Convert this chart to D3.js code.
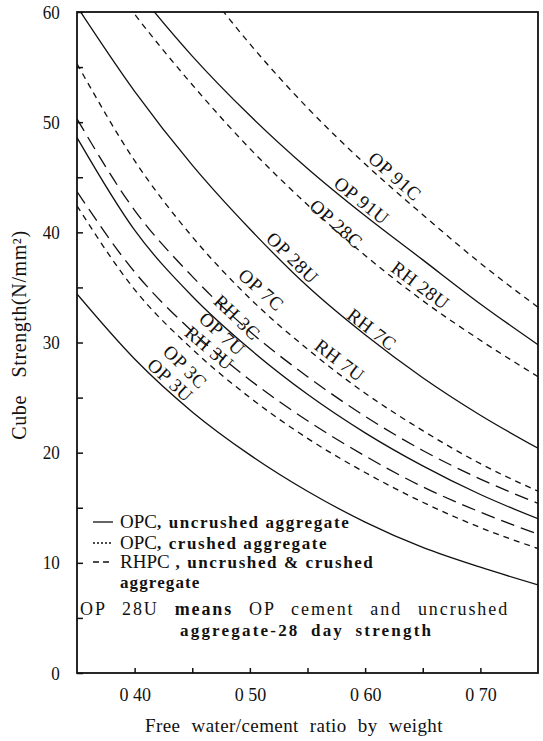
<!DOCTYPE html>
<html>
<head>
<meta charset="utf-8">
<script src="https://cdn.jsdelivr.net/npm/d3@7"></script>
<style>
  body { margin: 0; background: #fff; }
  svg text { font-family: "Liberation Serif", "DejaVu Serif", serif; fill: #111; }
</style>
</head>
<body>
<svg id="chart" width="543" height="741"></svg>
<script>
// free water / cement ratio, read at every 0.05
const ratios = [0.35, 0.40, 0.45, 0.50, 0.55, 0.60, 0.65, 0.70, 0.75];

// cube strength N/mm2 (values above 60 run off the top of the frame)
const op91c = [79.0, 71.0, 63.7, 57.1, 51.3, 46.2, 41.6, 37.2, 33.2];
const op91u = [69.0, 62.2, 56.0, 50.6, 45.8, 41.5, 37.5, 33.5, 29.8];
const op28c = [67.0, 59.8, 53.4, 47.6, 42.5, 37.9, 33.8, 30.2, 26.9];
const op28u = [60.5, 52.8, 46.1, 40.3, 35.1, 30.7, 26.8, 23.4, 20.4];
const op7c  = [55.3, 46.5, 39.6, 34.0, 29.4, 25.4, 22.0, 19.0, 16.5];
const rh3c  = [50.3, 42.0, 36.0, 31.0, 26.9, 23.3, 20.2, 17.6, 15.4];
const op7u  = [48.6, 40.2, 34.2, 29.4, 25.3, 21.8, 18.8, 16.2, 14.0];
const rh3u  = [43.7, 36.4, 31.0, 26.6, 22.9, 19.7, 16.9, 14.6, 12.6];
const op3c  = [42.4, 34.8, 29.4, 25.0, 21.3, 18.2, 15.5, 13.2, 11.3];
const op3u  = [34.4, 28.5, 23.7, 19.8, 16.5, 13.7, 11.4,  9.6,  8.0];

const strengthTicks = [0, 5, 10, 15, 20, 25, 30, 35, 40, 45, 50, 55, 60];
const ratioTicks = [0.40, 0.45, 0.50, 0.55, 0.60, 0.65, 0.70];
const ratioTickLabels = {"0.4": "0 40", "0.5": "0 50", "0.6": "0 60", "0.7": "0 70"};

// curve name -> line kind
const curves = [
  {name: "op91c", values: op91c, kind: "crushed"},
  {name: "op91u", values: op91u, kind: "uncrushed"},
  {name: "op28c", values: op28c, kind: "crushed"},
  {name: "op28u", values: op28u, kind: "uncrushed"},
  {name: "op7c",  values: op7c,  kind: "crushed"},
  {name: "rh3c",  values: rh3c,  kind: "rhpc"},
  {name: "op7u",  values: op7u,  kind: "uncrushed"},
  {name: "rh3u",  values: rh3u,  kind: "rhpc"},
  {name: "op3c",  values: op3c,  kind: "crushed"},
  {name: "op3u",  values: op3u,  kind: "uncrushed"}
];

// curve labels: centre in data units (ratio, strength), turned to follow their curve
const curveLabels = [
  {text: "OP  91C", curve: "op91c", ratio: 0.626, strength: 45.1},
  {text: "OP  91U", curve: "op91u", ratio: 0.597, strength: 42.9},
  {text: "OP  28C", curve: "op28c", ratio: 0.575, strength: 40.8},
  {text: "RH  28U", curve: "op28c", ratio: 0.648, strength: 35.2},
  {text: "OP  28U", curve: "op28u", ratio: 0.537, strength: 37.7},
  {text: "RH  7C",  curve: "op28u", ratio: 0.606, strength: 31.2},
  {text: "OP  7C",  curve: "op7c",  ratio: 0.510, strength: 34.8},
  {text: "RH  7U",  curve: "op7c",  ratio: 0.578, strength: 28.4},
  {text: "RH  3C",  curve: "rh3c",  ratio: 0.489, strength: 32.3},
  {text: "OP  7U",  curve: "op7u",  ratio: 0.476, strength: 30.8},
  {text: "RH  3U",  curve: "rh3u",  ratio: 0.465, strength: 29.5},
  {text: "OP  3C",  curve: "op3c",  ratio: 0.444, strength: 27.8},
  {text: "OP  3U",  curve: "op3u",  ratio: 0.431, strength: 26.6}
];

const dashes = {uncrushed: null, crushed: "6,5", rhpc: "14,7"};

const svg = d3.select("#chart");

const x = d3.scaleLinear().domain([0.35, 0.75]).range([77, 538]);
const y = d3.scaleLinear().domain([0, 60]).range([673, 12]);

svg.append("clipPath").attr("id", "plot-clip")
  .append("rect")
    .attr("x", x(0.35)).attr("y", y(60))
    .attr("width", x(0.75) - x(0.35)).attr("height", y(0) - y(60));

// axes
const yAxis = d3.axisLeft(y)
  .tickValues(strengthTicks)
  .tickSize(-6)
  .tickPadding(19)
  .tickFormat(d => d % 10 === 0 ? d : "");

const xAxis = d3.axisBottom(x)
  .tickValues(ratioTicks)
  .tickSize(-5)
  .tickPadding(15)
  .tickFormat(d => ratioTickLabels[String(+d.toFixed(2))] || "");

svg.append("g")
    .attr("class", "y axis")
    .attr("transform", "translate(" + x(0.35) + ",0)")
    .call(yAxis)
    .call(g => g.select(".domain").remove())
    .call(g => g.selectAll("text").attr("font-size", 19).attr("font-family", "Liberation Sans, sans-serif")
      .attr("transform", "scale(0.9,1)"));

svg.append("g")
    .attr("class", "x axis")
    .attr("transform", "translate(0," + y(0) + ")")
    .call(xAxis)
    .call(g => g.select(".domain").remove())
    .call(g => g.selectAll("text").attr("font-size", 18).attr("font-family", "Liberation Sans, sans-serif"));

svg.selectAll(".axis line").attr("stroke", "#111").attr("stroke-width", 1.5);

// frame
svg.append("rect")
    .attr("x", x(0.35)).attr("y", y(60))
    .attr("width", x(0.75) - x(0.35)).attr("height", y(0) - y(60))
    .attr("fill", "none").attr("stroke", "#111").attr("stroke-width", 1.8);

// curves
const line = d3.line()
    .curve(d3.curveMonotoneX)
    .x(function(d, i) { return x(ratios[i]); })
    .y(function(d) { return y(d); });

svg.append("g").attr("clip-path", "url(#plot-clip)")
  .selectAll("path")
  .data(curves)
  .join("path")
    .attr("class", d => "curve " + d.name)
    .attr("d", d => line(d.values))
    .attr("fill", "none")
    .attr("stroke", "#111")
    .attr("stroke-width", 1.3)
    .attr("stroke-dasharray", d => dashes[d.kind]);

// labels along curves
const byName = {};
curves.forEach(c => { byName[c.name] = d3.scaleLinear().domain(ratios).range(c.values); });

svg.append("g").selectAll("text")
  .data(curveLabels)
  .join("text")
    .attr("transform", function(d) {
      const f = byName[d.curve];
      const ang = Math.atan2(y(f(d.ratio + 0.01)) - y(f(d.ratio - 0.01)), x(d.ratio + 0.01) - x(d.ratio - 0.01)) * 180 / Math.PI;
      return "translate(" + x(d.ratio) + "," + y(d.strength) + ") rotate(" + ang + ")";
    })
    .attr("dy", "0.35em")
    .attr("text-anchor", "middle")
    .attr("font-size", 19)
    .attr("letter-spacing", 0.5)
    .text(d => d.text);

// legend
const legend = svg.append("g").attr("class", "legend");
const rows = [
  {kind: "uncrushed", main: "OPC", rest: ", uncrushed aggregate", y: 528},
  {kind: "crushed", main: "OPC", rest: ", crushed aggregate", y: 549},
  {kind: "rhpc", main: "RHPC", rest: " , uncrushed & crushed", y: 568}
];
const legendDash = {uncrushed: null, crushed: "2,2", rhpc: "6,4"};

rows.forEach(r => {
  legend.append("line")
    .attr("x1", 93).attr("x2", 113)
    .attr("y1", r.y - 6).attr("y2", r.y - 6)
    .attr("stroke", "#111").attr("stroke-width", 1.3)
    .attr("stroke-dasharray", legendDash[r.kind]);
  const t = legend.append("text").attr("x", 120).attr("y", r.y);
  t.append("tspan").attr("font-size", 19).text(r.main);
  t.append("tspan").attr("font-size", 17).attr("font-weight", "bold").attr("letter-spacing", 1.6).text(r.rest);
});
legend.append("text").attr("x", 120).attr("y", 588)
  .attr("font-size", 17).attr("font-weight", "bold").attr("letter-spacing", 1.1).text("aggregate");

const note1 = legend.append("text").attr("x", 80).attr("y", 615)
  .attr("font-size", 18).attr("letter-spacing", 1.9).attr("word-spacing", 9.5);
note1.append("tspan").text("OP  28U ");
note1.append("tspan").attr("font-weight", "bold").text("means ");
note1.append("tspan").text("OP  cement  and  uncrushed");
legend.append("text").attr("x", 180).attr("y", 636)
  .attr("font-size", 17).attr("font-weight", "bold").attr("letter-spacing", 2.2).attr("word-spacing", 5)
  .text("aggregate-28  day  strength");

// axis titles
svg.append("text")
    .attr("x", 294).attr("y", 732)
    .attr("text-anchor", "middle")
    .attr("font-size", 19)
    .attr("letter-spacing", 0.4)
    .attr("word-spacing", 6)
    .text("Free water/cement ratio by weight");

svg.append("text")
    .attr("transform", "translate(26,335) rotate(-90)")
    .attr("text-anchor", "middle")
    .attr("font-size", 20)
    .attr("letter-spacing", 0.6)
    .attr("word-spacing", 12)
    .text("Cube Strength(N/mm²)");
</script>
</body>
</html>
